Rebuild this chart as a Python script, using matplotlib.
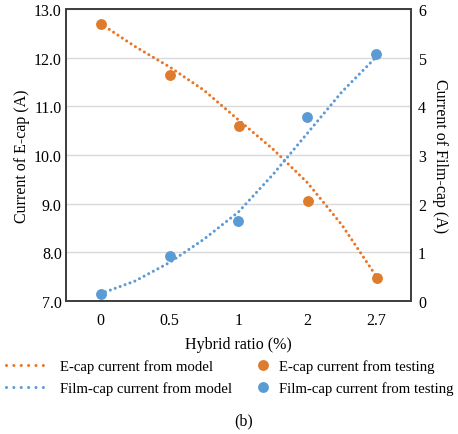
import matplotlib
matplotlib.use("Agg")
import matplotlib.pyplot as plt
from matplotlib.lines import Line2D

plt.rcParams['font.family'] = ['Liberation Serif', 'DejaVu Serif']

categories = ['0', '0.5', '1', '2', '2.7']
# testing values at each category
ecap_test = [12.70, 11.65, 10.60, 9.05, 7.47]
film_test = [0.15, 0.92, 1.64, 3.79, 5.08]
# model curves read at half-category steps
model_pos = [0, 0.5, 1, 1.5, 2, 2.5, 3, 3.5, 4]
ecap_model = [12.70, 12.23, 11.81, 11.33, 10.72, 10.12, 9.43, 8.56, 7.50]
film_model = [0.15, 0.41, 0.79, 1.27, 1.83, 2.60, 3.45, 4.30, 5.02]

c_orange = '#DD7C2E'
c_orange_line = '#EC7425'
c_blue = '#5B9BD5'
c_blue_line = '#5B9BD5'

fig = plt.figure(figsize=(4.58, 4.35), dpi=100)
ax = fig.add_axes([66/458, 1-302/435, (411-66)/458, 292/435])
ax2 = ax.twinx()

x = list(range(len(categories)))
dot = (0, (0.01, 1.7))
lw = 2.2
ax.plot(model_pos, ecap_model, color=c_orange_line, lw=lw, ls=dot, dash_capstyle='round', zorder=2)
ax.plot(x, ecap_test, 'o', color=c_orange, ms=6.8, zorder=3)
ax2.plot(model_pos, film_model, color=c_blue_line, lw=lw, ls=dot, dash_capstyle='round', zorder=2)
ax2.plot(x, film_test, 'o', color=c_blue, ms=6.8, zorder=3)

ax.set_xlim(-0.5, 4.5)
ax.set_ylim(7, 13)
ax2.set_ylim(0, 6)
ax.set_yticks([7, 8, 9, 10, 11, 12, 13])
ax.set_yticklabels(['7.0', '8.0', '9.0', '10.0', '11.0', '12.0', '13.0'])
ax2.set_yticks([0, 1, 2, 3, 4, 5, 6])
ax.set_xticks(x)
ax.set_xticklabels(categories)
ax.grid(axis='y', color='#D9D9D9', lw=1.0)
ax.set_axisbelow(True)
for a in (ax, ax2):
    a.tick_params(length=0, labelsize=11.5)
    for s in a.spines.values():
        s.set_color('#404040')
        s.set_linewidth(1.3)
ax.tick_params(axis='y', pad=3)
ax.tick_params(axis='x', pad=8)
ax2.tick_params(axis='y', pad=5)

ax.set_xlabel('Hybrid ratio (%)', fontsize=11.5, labelpad=6)
ax.set_ylabel('Current of E-cap (A)', fontsize=11.5, labelpad=3)
ax2.set_ylabel('Current of Film-cap (A)', fontsize=11.5, rotation=270, labelpad=16)

h1 = Line2D([], [], color=c_orange_line, lw=lw, ls=(0, (0.01, 2.4)), dash_capstyle='round')
h2 = Line2D([], [], color=c_blue_line, lw=lw, ls=(0, (0.01, 2.4)), dash_capstyle='round')
leg1 = fig.legend([h1, h2], ['E-cap current from model', 'Film-cap current from model'],
                  loc='upper left', bbox_to_anchor=(3/458, 1-357/435), frameon=False,
                  fontsize=10.6, handlelength=2.9, handletextpad=0.8, labelspacing=0.6,
                  borderpad=0.2, borderaxespad=0)
h3 = Line2D([], [], color=c_orange, marker='o', ms=6.8, ls='none')
h4 = Line2D([], [], color=c_blue, marker='o', ms=6.8, ls='none')
leg2 = fig.legend([h3, h4], ['E-cap current from testing', 'Film-cap current from testing'],
                  loc='upper left', bbox_to_anchor=(250/458, 1-357/435), frameon=False,
                  fontsize=10.6, handlelength=1.4, handletextpad=0.35, labelspacing=0.6,
                  borderpad=0.2, borderaxespad=0)
fig.text(244/458, 1-421/435, '(b)', ha='center', va='center', fontsize=11.5)

fig.savefig('out.png', dpi=100)
